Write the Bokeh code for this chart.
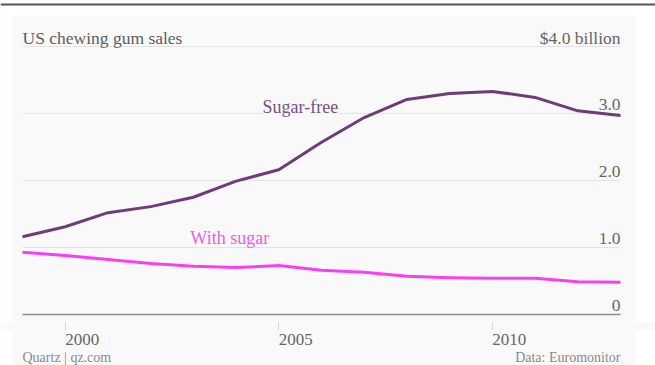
from bokeh.plotting import figure
from bokeh.layouts import column
from bokeh.models import ColumnDataSource, Label, Span, BoxAnnotation, FixedTicker
from bokeh.core.properties import value
from bokeh.embed import file_html
from bokeh.resources import INLINE

# ---------------- data ----------------
years = [1999, 2000, 2001, 2002, 2003, 2004, 2005, 2006, 2007, 2008, 2009, 2010, 2011, 2012, 2013]
sugar_free = [1.16, 1.31, 1.52, 1.61, 1.75, 1.99, 2.16, 2.57, 2.94, 3.21, 3.30, 3.33, 3.24, 3.04, 2.97]
with_sugar = [0.93, 0.88, 0.82, 0.76, 0.72, 0.70, 0.73, 0.66, 0.63, 0.57, 0.55, 0.54, 0.54, 0.49, 0.48]
y_ticks = [0, 1, 2, 3, 4]
y_tick_labels = ["0", "1.0", "2.0", "3.0", "$4.0 billion"]
x_ticks = [2000, 2005, 2010]
x_tick_labels = ["2000", "2005", "2010"]
title_text = "US chewing gum sales"
credit_text = "Quartz | qz.com"
source_text = "Data: Euromonitor"
series_names = ["Sugar-free", "With sugar"]

# ---------------- layout (pixels) ----------------
W = 655
H_MAIN, H_FOOT = 330, 35
FRAME_H = 322
FONT = "Liberation Serif"
PANEL = "#f9f9f9"
TEXT = "#666666"
left_px, right_px = 22, 620      # screen x of first / last year
top_px, zero_px = 46, 314        # screen y of top tick / zero
label_lift = 9                   # px between a grid line and the middle of its label
panel_left, panel_right, panel_top = 12, 635, 15

px_per_year = (right_px - left_px) / (years[-1] - years[0])
px_per_unit = (zero_px - top_px) / (y_ticks[-1] - y_ticks[0])
x0 = years[0] - left_px / px_per_year
x1 = years[-1] + (W - right_px) / px_per_year
y1 = y_ticks[-1] + top_px / px_per_unit
y0 = y_ticks[0] - (FRAME_H - zero_px) / px_per_unit


def xd(px):
    return x0 + px / px_per_year


def yd(px):
    return y1 - px / px_per_unit


def side_strips(fig):
    for b in [dict(right=xd(panel_left)), dict(left=xd(panel_right))]:
        fig.add_layout(BoxAnnotation(fill_color="white", fill_alpha=1,
                                     line_color=None, level="underlay", **b))


# ---------------- main chart ----------------
p = figure(width=W, height=H_MAIN, x_range=(x0, x1), y_range=(y0, y1),
           output_backend="svg", toolbar_location=None, y_axis_location=None,
           min_border_left=0, min_border_right=0, min_border_top=0,
           min_border_bottom=H_MAIN - FRAME_H,
           background_fill_color=PANEL, border_fill_color=PANEL,
           outline_line_color=None)
p.grid.visible = False

side_strips(p)
p.add_layout(BoxAnnotation(bottom=yd(panel_top), fill_color="white", fill_alpha=1,
                           line_color=None, level="underlay"))
p.add_layout(Span(location=yd(4), dimension="width", line_color="#555555",
                  line_width=2))

# grid lines from tick values
n = len(y_ticks) - 1
grid_src = ColumnDataSource(dict(x0=[years[0]] * n, x1=[years[-1]] * n, y=y_ticks[1:]))
p.segment(x0="x0", x1="x1", y0="y", y1="y", source=grid_src,
          line_color="#e3e3e3", line_width=1)
p.segment(x0=[years[0]], x1=[years[-1]], y0=[y_ticks[0]], y1=[y_ticks[0]],
          line_color="#8c8c8c", line_width=1.5)

# y tick labels (inside, right aligned, sitting on each grid line)
lab_src = ColumnDataSource(dict(x=[years[-1]] * len(y_ticks), y=y_ticks, t=y_tick_labels))
p.text(x="x", y="y", text="t", source=lab_src, text_align="right",
       text_baseline="middle", y_offset=-label_lift, text_font=value(FONT),
       text_font_size="17.5px", text_color=TEXT)

# title, on the same line as the top tick label
p.add_layout(Label(x=years[0], y=y_ticks[-1] + label_lift / px_per_unit,
                   text=title_text, text_baseline="middle", text_font=FONT,
                   text_font_size="17.5px", text_color="#5e5e5e"))

# series
src = ColumnDataSource(dict(year=years, sf=sugar_free, ws=with_sugar))
p.line("year", "sf", source=src, line_color="#6e3d77", line_width=3,
       line_join="round")
p.line("year", "ws", source=src, line_color="#f93ef3", line_width=3,
       line_join="round")

p.add_layout(Label(x=2004.62, y=3.1, text=series_names[0], text_baseline="middle",
                   text_font=FONT, text_font_size="18px", text_color="#7b4f85",
                   background_fill_color=PANEL, background_fill_alpha=1))
p.add_layout(Label(x=2002.93, y=1.14, text=series_names[1], text_baseline="middle",
                   text_font=FONT, text_font_size="18px", text_color="#f05aee"))

# x axis: tick marks only (labels are drawn left-aligned in the strip below)
ax = p.xaxis[0]
ax.ticker = FixedTicker(ticks=x_ticks)
ax.axis_line_color = None
ax.major_tick_line_color = "#d6d6d6"
ax.major_tick_out = 8
ax.major_tick_in = 0
ax.minor_tick_line_color = None
ax.major_label_standoff = 0
ax.major_label_text_font_size = "0px"
ax.major_label_text_color = None

# ---------------- strip below: year labels and footer ----------------
f = figure(width=W, height=H_FOOT, x_range=p.x_range, y_range=(H_FOOT, 0),
           output_backend="svg", toolbar_location=None,
           x_axis_location=None, y_axis_location=None,
           min_border=0, background_fill_color=PANEL, border_fill_color=PANEL,
           outline_line_color=None)
f.grid.visible = False
side_strips(f)

f.text(x=x_ticks, y=[9] * len(x_ticks), text=x_tick_labels, text_align="left",
       text_baseline="middle", text_font=value(FONT), text_font_size="17px",
       text_color=TEXT)
f.text(x=[years[0], years[-1]], y=[27, 27], text=[credit_text, source_text],
       text_align=["left", "right"], text_baseline="middle",
       text_font=value(FONT), text_font_size="14px", text_color="#8a8a8a")

layout = column(p, f, spacing=0)
open("out.html", "w").write(file_html(layout, INLINE))
